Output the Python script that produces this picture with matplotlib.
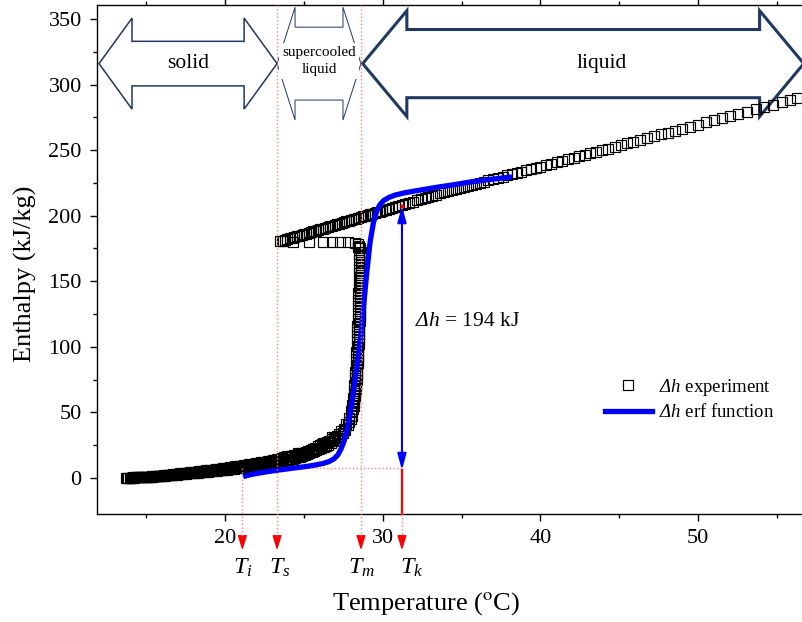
import matplotlib
matplotlib.use('Agg')
import matplotlib.pyplot as plt
from matplotlib.patches import Polygon
from matplotlib.lines import Line2D

plt.rcParams['font.family'] = ['Liberation Serif', 'DejaVu Serif']
plt.rcParams['mathtext.fontset'] = 'custom'
# greek capitals are always taken from the "rm" font, so make it italic too
plt.rcParams['mathtext.rm'] = 'Liberation Serif:italic'
plt.rcParams['mathtext.it'] = 'Liberation Serif:italic'

# experiment: cooling liquid (hot -> supercooled)
liquid_T = [56.3, 55.8, 55.3, 54.75, 54.2, 53.65, 53.1, 52.55, 52.0, 51.5, 51.0, 50.5, 50.0,
            49.5, 49.0, 48.55, 48.1, 47.65, 47.2, 46.75, 46.3, 45.9, 45.5, 45.1, 44.7, 44.3,
            43.9, 43.5, 43.15, 42.8, 42.45, 42.1, 41.75, 41.4, 41.05, 40.7, 40.35,
            40.0, 39.7, 39.4, 39.1, 38.8, 38.5, 38.2, 37.9, 37.6, 37.3, 37.0, 36.7, 36.4,
            36.15, 35.9, 35.65, 35.4, 35.15, 34.9, 34.65, 34.4, 34.15, 33.9, 33.65, 33.4,
            33.15, 32.9, 32.65, 32.4, 32.15, 31.9, 31.65, 31.4, 31.2, 31.0, 30.8, 30.6,
            30.4, 30.2,
            29.95, 29.8, 29.65, 29.5, 29.35, 29.2, 29.05, 28.9, 28.75, 28.6, 28.45, 28.3,
            28.15, 28.0, 27.85, 27.7, 27.55, 27.4, 27.25, 27.1, 26.95, 26.8, 26.65, 26.5,
            26.35, 26.2, 26.05, 25.9, 25.75, 25.6, 25.45, 25.3, 25.15, 25.0, 24.85, 24.7,
            24.55, 24.4, 24.25, 24.1, 23.95, 23.8, 23.65, 23.5]
liquid_h = [289.7, 288.1, 286.5, 284.7, 282.9, 281.2, 279.4, 277.7, 275.9, 274.3, 272.7, 271.1, 269.5,
            267.9, 266.3, 264.8, 263.4, 262.0, 260.5, 259.1, 257.6, 256.4, 255.1, 253.8, 252.5, 251.2,
            250.0, 248.7, 247.6, 246.4, 245.3, 244.2, 243.1, 242.0, 240.8, 239.7, 238.6,
            237.5, 236.5, 235.6, 234.6, 233.6, 232.7, 231.7, 230.8, 229.8, 228.8, 227.9, 226.9, 226.0,
            225.2, 224.4, 223.6, 222.8, 222.0, 221.2, 220.4, 219.6, 218.8, 218.0, 217.2, 216.1,
            215.2, 214.3, 213.4, 212.5, 211.6, 210.7, 209.8, 208.9, 208.2, 207.5, 206.8, 206.1,
            205.3, 204.6,
            203.7, 203.2, 202.6, 202.1, 201.6, 201.0, 200.5, 199.9, 199.4, 198.9, 198.3, 197.8,
            197.2, 196.7, 196.2, 195.6, 195.1, 194.5, 194.0, 193.5, 192.9, 192.4, 191.8, 191.3,
            190.8, 190.2, 189.7, 189.1, 188.6, 188.1, 187.5, 187.0, 186.4, 185.9, 185.4, 184.8,
            184.3, 183.7, 183.2, 182.7, 182.1, 181.6, 181.0, 180.5]

# nucleation jump back towards melting temperature
jump_T = [23.6, 24.3, 25.3, 26.2, 26.8, 27.3, 27.8]
jump_h = [180.5, 180.0, 180.0, 180.0, 180.0, 180.0, 180.0]

# solidification plateau
solidify_h = [179.5, 178.5, 177, 175, 172.5, 170, 167.5, 165, 162.5, 160, 157.5, 155, 152.5,
              150, 147.5, 145, 142.5, 140, 137.5, 135, 132.5, 130, 127.5, 125, 122.5, 120,
              117.5, 115, 112.5, 110, 107.5, 105, 102.5, 100, 97.5, 95, 92.5, 90, 87.5, 85,
              82.5, 80, 77.5, 75, 72.5, 70, 67.5, 65, 62.5, 60, 57.5, 55, 52.5, 50, 47.5,
              45, 42.5, 40]
solidify_T = [28.25, 28.42, 28.52, 28.57, 28.6, 28.62, 28.61, 28.63, 28.6, 28.62, 28.6, 28.61,
              28.59, 28.6, 28.58, 28.6, 28.57, 28.58, 28.56, 28.57, 28.55, 28.56, 28.54, 28.55,
              28.53, 28.53, 28.52, 28.52, 28.5, 28.5, 28.49, 28.48, 28.47, 28.46, 28.45, 28.44,
              28.43, 28.42, 28.41, 28.4, 28.38, 28.37, 28.36, 28.35, 28.33, 28.31, 28.29, 28.27,
              28.24, 28.21, 28.18, 28.15, 28.11, 28.07, 28.02, 27.96, 27.88, 27.78]
solidify2_h = [176, 171, 166, 161, 156, 151, 146, 141, 136, 131, 126, 121, 116, 111, 106, 101,
               96, 91, 86, 81, 76, 71, 66, 61, 56, 51, 46, 41]
solidify2_T = [28.43, 28.49, 28.50, 28.49, 28.48, 28.48, 28.47, 28.46, 28.45, 28.44, 28.43,
               28.41, 28.40, 28.38, 28.37, 28.35, 28.33, 28.31, 28.29, 28.26, 28.24, 28.20,
               28.16, 28.11, 28.04, 27.97, 27.87, 27.70]

# cooling of the solid
solid_T = [27.6, 27.45, 27.3, 27.15, 27.0, 26.85, 26.7, 26.55, 26.4, 26.25, 26.1, 25.95, 25.8,
           25.65, 25.5, 25.35, 25.2, 25.05, 24.9, 24.75, 24.6, 24.45, 24.3, 24.15, 24.0, 23.85,
           23.7, 23.55, 23.4, 23.25, 23.1, 22.95, 22.8, 22.65, 22.5, 22.35, 22.2, 22.05, 21.9,
           21.75, 21.6, 21.45, 21.3, 21.15, 21.0, 20.85, 20.7, 20.55, 20.4, 20.25, 20.1, 19.95,
           19.8, 19.65, 19.5, 19.35, 19.2, 19.05, 18.9, 18.75, 18.6, 18.45, 18.3, 18.15, 18.0,
           17.85, 17.7, 17.55, 17.4, 17.25, 17.1, 16.95, 16.8, 16.65, 16.5, 16.35, 16.2, 16.05,
           15.9, 15.75, 15.6, 15.45, 15.3, 15.15, 15.0, 14.85, 14.7, 14.55, 14.4, 14.25, 14.1,
           13.95, 13.8, 13.7]
solid_h = [36.5, 34, 32, 30.5, 29, 27.8, 26.6, 25.4, 24.6, 23.8, 23, 22, 21,
           20.3, 19.5, 18.8, 18, 17.2, 16.7, 16.2, 15.7, 15.2, 14.7, 14.3, 14, 13.6,
           13.2, 12.8, 12.4, 12.1, 11.7, 11.4, 11.1, 10.8, 10.5, 10.2, 9.9, 9.6, 9.3,
           9.0, 8.8, 8.5, 8.3, 8.0, 7.8, 7.6, 7.3, 7.1, 6.8, 6.6, 6.4, 6.2,
           6.0, 5.8, 5.6, 5.4, 5.2, 5.0, 4.8, 4.6, 4.4, 4.2, 4.0, 3.9, 3.8,
           3.6, 3.4, 3.3, 3.1, 2.9, 2.8, 2.6, 2.4, 2.3, 2.1, 1.9, 1.8, 1.6,
           1.5, 1.4, 1.2, 1.1, 1.0, 0.9, 0.8, 0.7, 0.6, 0.5, 0.4, 0.3, 0.2,
           0.1, 0.0, 0.0]
solid2_T = [27.52, 27.37, 27.22, 27.07, 26.92, 26.77, 26.62, 26.47, 26.32, 26.17, 26.02, 25.87,
            25.72, 25.57, 25.42, 25.27, 25.12, 24.97, 24.82, 24.67, 24.52, 24.37, 24.22, 24.07,
            23.92, 23.77, 23.62, 23.47, 23.32, 23.17, 23.02, 22.87, 22.72, 22.57, 22.42, 22.27,
            22.12, 21.97, 21.82, 21.67, 21.52, 21.37, 21.22, 21.07, 20.92, 20.77, 20.62, 20.47,
            20.32, 20.17, 20.02, 19.87, 19.72, 19.57, 19.42, 19.27, 19.12, 18.97, 18.82, 18.67,
            18.52, 18.37, 18.22, 18.07, 17.92, 17.77, 17.62, 17.47, 17.32, 17.17, 17.02, 16.87,
            16.72, 16.57, 16.42, 16.27, 16.12, 15.97, 15.82, 15.67, 15.52, 15.37, 15.22, 15.07,
            14.92, 14.77, 14.62, 14.47, 14.32, 14.17, 14.02, 13.87]
solid2_h = [37.7, 35.5, 33.5, 32.0, 30.5, 29.5, 28.5, 27.5, 26.5, 25.8, 25.0, 24.0,
            23.0, 22.2, 21.5, 20.8, 20.0, 19.3, 18.8, 18.3, 17.8, 17.3, 16.8, 16.4,
            16.0, 15.6, 15.2, 14.8, 14.3, 13.9, 13.5, 13.1, 12.8, 12.4, 12.1, 11.8,
            11.5, 11.2, 10.9, 10.6, 10.3, 10.0, 9.7, 9.4, 9.2, 8.9, 8.6, 8.3,
            8.1, 7.8, 7.6, 7.3, 7.1, 6.8, 6.6, 6.4, 6.1, 5.9, 5.7, 5.4,
            5.2, 5.0, 4.8, 4.6, 4.4, 4.2, 4.0, 3.8, 3.6, 3.4, 3.2, 3.0,
            2.8, 2.6, 2.4, 2.2, 2.0, 1.8, 1.7, 1.5, 1.3, 1.2, 1.1, 1.0,
            0.9, 0.8, 0.7, 0.6, 0.5, 0.4, 0.3, 0.2]
stray_T = [26.8, 26.2, 25.6, 24.6, 23.9, 20.6]
stray_h = [31, 27, 22, 19, 17, 9]

# erf fit
erf_T = [21.15, 21.6, 22.2, 22.8, 23.5, 24.2, 25.0, 25.7, 26.2, 26.6, 26.9, 27.15, 27.35,
         27.55, 27.75, 27.95, 28.15, 28.35, 28.6, 28.8, 29.0, 29.2, 29.4, 29.6, 29.8, 30.05,
         30.4, 30.8, 31.4, 32.4, 33.5, 34.5, 35.5, 36.5, 37.4, 38.2]
erf_h = [1.0, 2.5, 3.8, 5.0, 6.2, 7.3, 8.5, 9.8, 11.0, 12.5, 14.5, 17.5, 22,
         28, 37, 50, 66, 84, 108, 133, 158, 180, 194, 203, 208, 211.5,
         214, 215.8, 217.5, 219.6, 221.8, 223.6, 225.6, 227.2, 228.5, 229.6]

# characteristic temperatures
T_i, T_s, T_m, T_k = 21.1, 23.3, 28.62, 31.22
h_low, h_top = 6.0, 207.4
dh_text = r'$\Delta h$ = 194 kJ'

navy = '#1f3864'
pink = '#ff8080'


def block_arrow(ax, x0, x1, yc, body, head, hl, **kw):
    pts = [(x0, yc), (x0 + hl, yc + head), (x0 + hl, yc + body), (x1 - hl, yc + body),
           (x1 - hl, yc + head), (x1, yc), (x1 - hl, yc - head), (x1 - hl, yc - body),
           (x0 + hl, yc - body), (x0 + hl, yc - head)]
    ax.add_patch(Polygon(pts, closed=True, facecolor='white', edgecolor=navy,
                         joinstyle='miter', **kw))


fig = plt.figure(figsize=(8.02, 6.22), dpi=100)
ax = fig.add_axes([97 / 802, 108 / 622, 708 / 802, 509 / 622])
ax.set_xlim(11.88, 56.78)
ax.set_ylim(-27.5, 360.7)

exp_T = liquid_T + jump_T + solidify_T + solidify2_T + solid_T + solid2_T + stray_T
exp_h = liquid_h + jump_h + solidify_h + solidify2_h + solid_h + solid2_h + stray_h
ax.plot(exp_T, exp_h, ls='none', marker='s', ms=7.2, mfc='none', mec='black', mew=0.85,
        zorder=3)
ax.plot(erf_T, erf_h, color='blue', lw=3.8, zorder=4, solid_capstyle='butt')

# phase arrows
block_arrow(ax, 12.01, 23.30, 316, 17, 34.7, 2.09, lw=1.1, zorder=2)
block_arrow(ax, 23.30, 28.62, 316, 27.8, 43, 1.14, lw=0.7, zorder=2)
block_arrow(ax, 28.73, 56.7, 316, 26, 40.4, 2.8, lw=2.2, zorder=2)
ax.text(17.65, 316, 'solid', ha='center', va='center', fontsize=15.5, zorder=5)
ax.text(43.9, 316, 'liquid', ha='center', va='center', fontsize=15.5, zorder=5)
ax.text(25.96, 318, 'supercooled\nliquid', ha='center', va='center', fontsize=11,
        linespacing=1.4, zorder=4,
        bbox=dict(boxstyle='square,pad=0.2', fc='white', ec='none'))

# dotted guides
ax.plot([T_s, T_s], [360.7, -44], ls=':', color=pink, lw=1, clip_on=False, zorder=6)
ax.plot([T_m, T_m], [360.7, -44], ls=':', color=pink, lw=1, clip_on=False, zorder=6)
ax.plot([T_i, T_i], [7.4, -44], ls=':', color=pink, lw=1, clip_on=False, zorder=6)
ax.plot([T_k, T_k], [-27.5, -44], ls=':', color=pink, lw=1, clip_on=False, zorder=6)
ax.plot([T_i, T_k], [7.4, 7.4], ls=':', color=pink, lw=1, zorder=2)
ax.plot([T_k, T_k], [h_low, -27.5], color='red', lw=1.6, zorder=5, clip_on=False)

for t in [T_i, T_s, T_m, T_k]:
    ax.annotate('', xy=(t, -53.6), xytext=(t, -44), annotation_clip=False,
                arrowprops=dict(width=0.01, headwidth=5.5, headlength=9, color='red',
                                shrink=0))

ax.annotate('', xy=(T_k, h_top), xytext=(T_k, h_low),
            arrowprops=dict(arrowstyle='<|-|>,head_length=0.8,head_width=0.22',
                            color='blue', lw=1.5, mutation_scale=12,
                            shrinkA=0, shrinkB=0), zorder=6)
ax.plot([T_k], [h_top], marker='o', ms=2, color='red', zorder=7)
ax.text(32.05, 119, dh_text, ha='left', va='center', fontsize=15.5)

for x, s in [(20.51, r'$T_i$'), (22.79, r'$T_s$'), (27.80, r'$T_m$'), (31.10, r'$T_k$')]:
    ax.text(x, -72.7, s, ha='left', va='baseline', fontsize=17.5)

# axes styling
ax.set_xticks([20, 30, 40, 50])
ax.set_xticks([15, 25, 35, 45, 55], minor=True)
ax.set_yticks(range(0, 351, 50))
ax.set_yticks(range(25, 351, 50), minor=True)
ax.tick_params(which='both', direction='out', top=True, right=False, width=1,
               labelsize=16)
ax.tick_params(which='major', length=5, pad=6)
ax.tick_params(which='minor', length=3)
for sp in ax.spines.values():
    sp.set_linewidth(1.0)

ax.set_xlabel(r'Temperature ($^{\mathrm{o}}$C)', fontsize=19, math_fontfamily='stix')
ax.set_ylabel('Enthalpy (kJ/kg)', fontsize=19)
ax.xaxis.set_label_coords(0.465, -0.15)
ax.yaxis.set_label_coords(-0.085, 0.4725)

handles = [Line2D([], [], ls='none', marker='s', ms=7.2, mfc='none', mec='black', mew=0.85),
           Line2D([], [], color='blue', lw=3.8)]
ax.legend(handles, [r'$\Delta h$ experiment', r'$\Delta h$ erf function'],
          loc='upper left', bbox_to_anchor=(0.7175, 0.27), frameon=False, fontsize=13.5,
          handlelength=2.5, handletextpad=0.4, labelspacing=0.3, borderpad=0,
          borderaxespad=0)

fig.savefig('out.png', dpi=100)
